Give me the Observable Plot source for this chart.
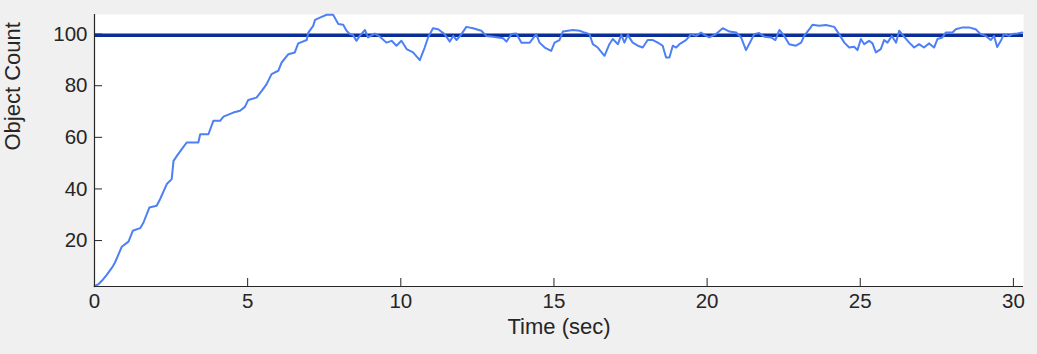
<!DOCTYPE html>
<html>
<head>
<meta charset="utf-8">
<script src="https://cdn.jsdelivr.net/npm/d3@7"></script>
<script src="https://cdn.jsdelivr.net/npm/@observablehq/plot@0.6"></script>
<style>
  html, body { margin: 0; padding: 0; background: #f0f0f0; }
  #chart svg { display: block; background: #f0f0f0; }
</style>
</head>
<body>
<div id="chart"></div>
<script>
const timeSec = [0,0.13,0.24,0.4,0.57,0.67,0.89,1.11,1.25,1.49,1.6,1.79,2.03,2.14,2.36,2.52,2.58,2.69,2.85,3.01,3.39,3.45,3.72,3.88,4.1,4.21,4.53,4.75,4.91,5.02,5.29,5.46,5.62,5.78,6.0,6.11,6.33,6.54,6.65,6.93,6.98,7.14,7.2,7.36,7.58,7.79,7.96,8.12,8.23,8.34,8.44,8.55,8.66,8.83,8.93,9.15,9.32,9.53,9.7,9.86,10.02,10.19,10.4,10.62,10.78,10.89,11.05,11.22,11.43,11.6,11.71,11.82,11.98,12.14,12.36,12.63,12.79,13.01,13.34,13.45,13.61,13.77,13.94,14.21,14.42,14.53,14.7,14.91,15.02,15.18,15.29,15.62,15.84,16,16.16,16.27,16.43,16.65,16.81,16.92,17.09,17.2,17.3,17.41,17.57,17.74,17.9,18.06,18.23,18.39,18.55,18.66,18.77,18.88,18.99,19.1,19.31,19.48,19.64,19.8,19.97,20.07,20.29,20.51,20.73,20.95,21.11,21.27,21.43,21.54,21.7,21.87,22.09,22.23,22.36,22.52,22.68,22.9,23.07,23.17,23.34,23.44,23.66,23.88,24.15,24.31,24.48,24.64,24.8,24.91,25.02,25.13,25.29,25.4,25.51,25.67,25.78,25.89,26.03,26.17,26.27,26.43,26.6,26.76,26.92,27.08,27.25,27.41,27.52,27.68,27.79,28.01,28.12,28.34,28.55,28.77,28.93,29.1,29.26,29.37,29.47,29.59,29.69,29.86,29.96,30.13,30.29];
const objectCount = [2.3,3.1,4.4,6.7,9.5,11.5,17.6,19.6,23.8,24.8,27,32.8,33.5,36,41.9,43.8,50.9,52.8,55.4,58,58,61.2,61.2,66.4,66.4,68,69.6,70.3,71.8,74.5,75.4,78,80.6,84.5,85.8,89,92.2,92.9,96.4,97.7,100.6,103.2,105.5,106.4,107.5,107.5,103.9,103.6,101.3,100,99.7,97.4,99.3,101.6,98.7,100.2,99,96.7,97.4,95.5,97.4,94.2,92.9,89.9,94.8,98.7,102.3,101.9,100,97.1,99.3,97.7,100,102.8,102.3,101.3,99.3,99,98.4,97.1,100,100.2,96.7,96.7,100,96.7,94.8,93.5,96.7,97.7,101,101.6,101.3,100.6,100,96.1,94.8,91.6,96.1,98.1,96.1,99.7,96.7,99.7,96.7,95.5,94.8,97.7,97.7,96.7,95.5,90.9,90.9,95.5,94.8,96.1,97.7,100,99.3,100.6,99.3,98.7,100,102.3,101,100.6,98.7,93.8,97.4,100,100.4,99,98.7,97.7,101.6,99.3,96.1,95.5,96.7,99.3,101.9,103.6,103.2,103.5,102.8,100,96.7,94.8,95.1,93.8,98.1,96.1,97.4,96.4,92.9,94.2,97.7,96.7,99.3,96.7,101.3,99,96.7,94.8,96.1,94.8,96.4,94.8,98.1,98.7,100.6,100.6,101.9,102.6,102.6,101.9,100,99.3,97.7,99.3,95,97.4,100,99.3,100,100.2,100.6];
const targetCount = [99.6];
const xTicks = [0, 5, 10, 15, 20, 25, 30];
const yTicks = [20, 40, 60, 80, 100];
const xDomain = [0, 30.33];
const yDomain = [2.2, 107.6];

const data = timeSec.map((t, i) => ({t, v: objectCount[i]}));

const W = 1037, H = 354;
const mL = 94, mR = 14, mT = 14, mB = 68;
const frameW = W - mL - mR, frameH = H - mT - mB;
const tickLen = 8;
const axisColor = "#262626";

const chart = Plot.plot({
  width: W,
  height: H,
  marginLeft: mL,
  marginRight: mR,
  marginTop: mT,
  marginBottom: mB,
  style: {background: "#f0f0f0", fontFamily: "'Liberation Sans', Arial, Helvetica, sans-serif", fontSize: "20px", color: axisColor},
  x: {domain: xDomain, axis: null},
  y: {domain: yDomain, axis: null},
  marks: [
    Plot.frame({fill: "white", stroke: null}),
    Plot.text(xTicks, {x: d => d, frameAnchor: "bottom", dy: 21, fontSize: 20.5, fill: axisColor, text: d => String(d)}),
    Plot.text(yTicks, {y: d => d, frameAnchor: "left", dx: -7, textAnchor: "end", fontSize: 20.5, fill: axisColor, text: d => String(d)}),
    Plot.tickX(xTicks, {x: d => d, stroke: axisColor, strokeWidth: 1, insetTop: frameH - tickLen}),
    Plot.tickY(yTicks, {y: d => d, stroke: axisColor, strokeWidth: 1, insetRight: frameW - tickLen}),
    Plot.ruleY(targetCount, {stroke: "#0a2d96", strokeWidth: 3.5}),
    Plot.line(data, {x: "t", y: "v", stroke: "#4d80f4", strokeWidth: 2}),
    Plot.ruleX([xDomain[0]], {stroke: axisColor, strokeWidth: 1.2}),
    Plot.ruleY([yDomain[0]], {stroke: axisColor, strokeWidth: 1.2}),
    Plot.text(["Object Count"], {frameAnchor: "left", dx: -82, rotate: -90, fontSize: 22, fill: axisColor}),
    Plot.text(["Time (sec)"], {frameAnchor: "bottom", dy: 47, fontSize: 22, fill: axisColor})
  ]
});
document.getElementById("chart").appendChild(chart);
</script>
</body>
</html>
